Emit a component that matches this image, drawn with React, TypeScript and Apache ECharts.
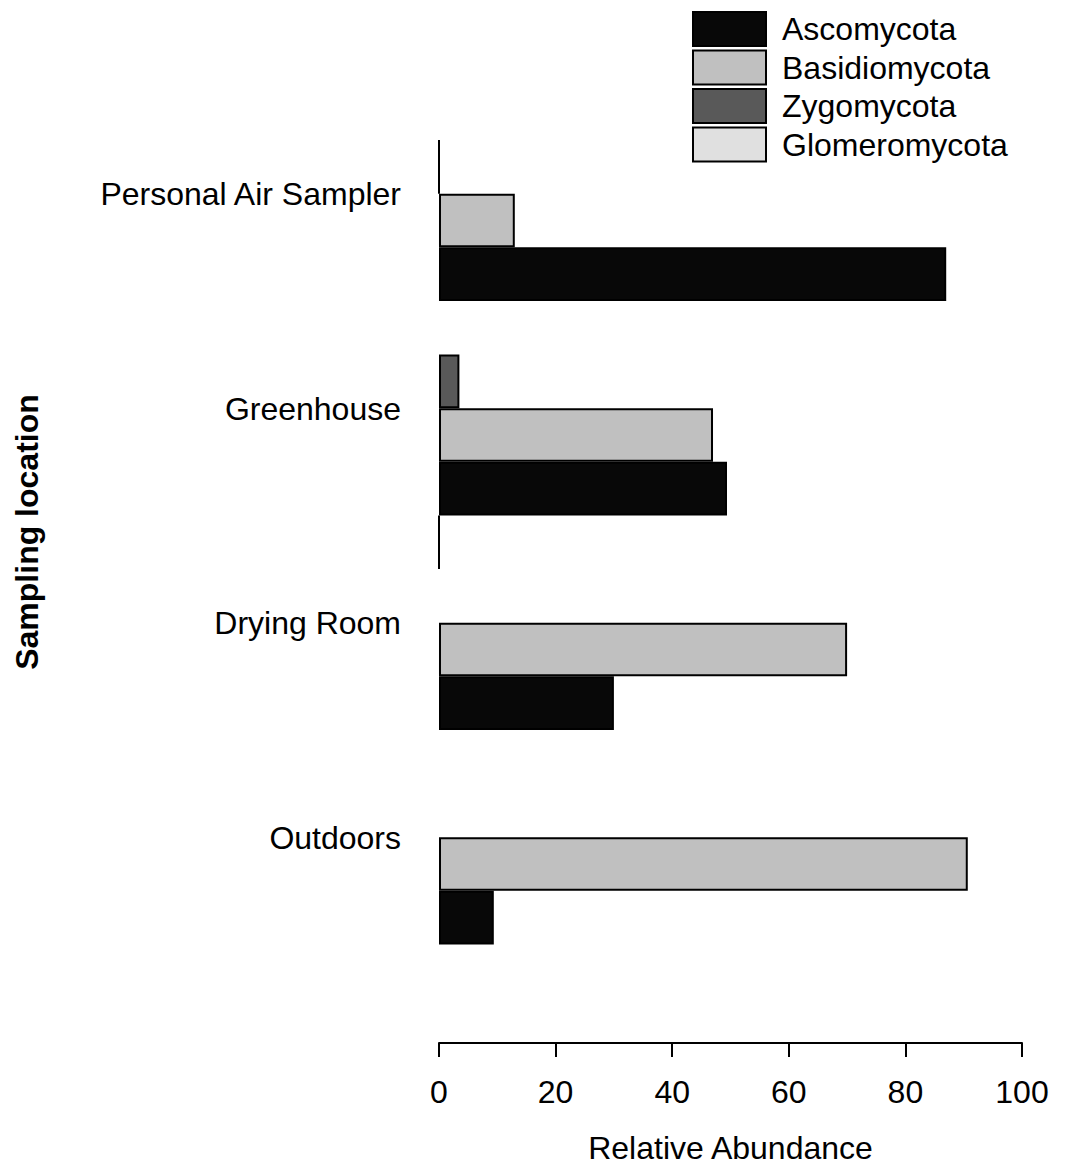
import React, { useEffect, useRef } from "react";
import * as echarts from "echarts";

const categories = ["Personal Air Sampler", "Greenhouse", "Drying Room", "Outdoors"];
const ascomycota = [87.0, 49.4, 30.0, 9.4];
const basidiomycota = [13.0, 47.0, 70.0, 90.7];
const zygomycota: (number | null)[] = [0, 3.5, null, null];
const glomeromycota: (number | null)[] = [null, 0, null, null];
const xTicks = { min: 0, max: 100, interval: 20 };

const FONT = "'Liberation Sans', Arial, sans-serif";
const FS = 32;

export default function App() {
  const ref = useRef<HTMLDivElement>(null);
  useEffect(() => {
    document.body.style.margin = "0";
    const chart = echarts.init(ref.current!, null, { renderer: "svg" });
    const border = { borderColor: "#000", borderWidth: 2 };
    const mk = (name: string, data: (number | null)[], color: string) => ({
      name,
      type: "bar",
      data,
      barGap: "0%",
      barCategoryGap: "0%",
      itemStyle: { color, ...border },
    });
    chart.setOption({
      animation: false,
      backgroundColor: "#fff",
      textStyle: { fontFamily: FONT },
      grid: { left: 439, right: 43, top: 140, bottom: 171, containLabel: false },
      legend: {
        orient: "vertical",
        left: 692,
        top: 11,
        padding: 0,
        itemWidth: 73,
        itemHeight: 34,
        itemGap: 2.5,
        icon: "rect",
        data: ["Ascomycota", "Basidiomycota", "Zygomycota", "Glomeromycota"],
        textStyle: { fontSize: FS, lineHeight: 34, color: "#000", fontFamily: FONT, padding: [0, 0, 0, 11] },
      },
      xAxis: {
        type: "value",
        min: xTicks.min,
        max: xTicks.max,
        interval: xTicks.interval,
        offset: 45,
        splitLine: { show: false },
        axisLine: { show: true, lineStyle: { color: "#000", width: 2 } },
        axisTick: { show: true, length: 14, lineStyle: { color: "#000", width: 2 } },
        axisLabel: { fontSize: FS, color: "#000", margin: 33, fontFamily: FONT },
        name: "Relative Abundance",
        nameLocation: "middle",
        nameGap: 89,
        nameTextStyle: { fontSize: FS, color: "#000", fontFamily: FONT },
      },
      yAxis: {
        type: "category",
        data: categories,
        inverse: true,
        axisLine: { show: false },
        axisTick: { show: false },
        splitLine: { show: false },
        axisLabel: {
          fontSize: FS,
          color: "#000",
          margin: 38,
          fontFamily: FONT,
          verticalAlign: "middle",
          lineHeight: 106,
          formatter: (v: string) => v + "\n ",
        },
      },
      graphic: [
        {
          type: "text",
          x: 27,
          y: 532,
          rotation: Math.PI / 2,
          style: {
            text: "Sampling location",
            font: `bold ${FS}px ${FONT}`,
            fill: "#000",
            align: "center",
            verticalAlign: "middle",
          },
        },
      ],
      series: [
        mk("Zygomycota", zygomycota, "#595959"),
        mk("Basidiomycota", basidiomycota, "#c0c0c0"),
        mk("Ascomycota", ascomycota, "#080808"),
        mk("Glomeromycota", glomeromycota, "#e0e0e0"),
      ],
    });
    return () => chart.dispose();
  }, []);
  return <div ref={ref} style={{ width: 1065, height: 1169 }} />;
}
